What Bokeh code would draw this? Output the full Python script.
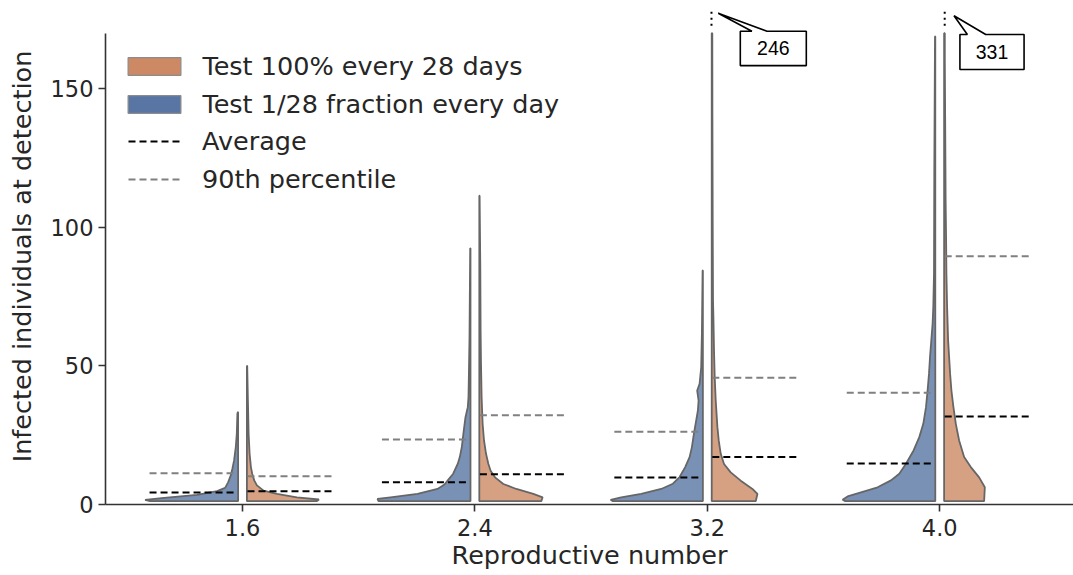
import numpy as np
from bokeh.plotting import figure
from bokeh.models import Range1d, FixedTicker, Legend, LegendItem
from bokeh.embed import file_html
from bokeh.resources import INLINE
from bokeh.core.properties import value

# ---------------- data ----------------
categories = ["1.6", "2.4", "3.2", "4.0"]
label_monthly = "Test 100% every 28 days"
label_daily = "Test 1/28 fraction every day"
label_mean = "Average"
label_p90 = "90th percentile"
x_title = "Reproductive number"
y_title = "Infected individuals at detection"

# daily testing (left halves): value levels and relative density at each level
daily_levels = [
    [1.2, 1.7, 2.4, 3.5, 4.8, 6.0, 8.0, 10.5, 12.9, 15.9, 20.7, 25.5, 32.7, 33.3],
    [1.2, 2.0, 2.6, 3.8, 5.6, 7.2, 8.7, 11.1, 14.7, 17.1, 20.7, 26.7, 31.5, 35.1, 38.7, 44.7, 60.0, 92.4],
    [1.2, 1.7, 2.6, 3.8, 5.6, 7.5, 9.9, 13.5, 17.1, 20.7, 25.5, 30.3, 33.9, 37.5, 41.1, 43.5, 49.5, 61.6, 84.4],
    [1.2, 1.7, 2.9, 4.4, 6.2, 8.7, 11.1, 14.7, 19.5, 24.3, 29.1, 35.1, 41.1, 47.1, 53.1, 59.1, 65.2, 71.2, 83.2, 120.0, 168.8],
]
daily_density = [
    [88, 93, 74, 41, 21, 13, 10, 7.3, 5.7, 4.0, 2.3, 1.3, 0.7, 0.3],
    [92, 93, 80, 53, 33, 26, 22.7, 17.3, 12.7, 10.7, 8.7, 6.7, 5.0, 2.7, 2.0, 1.7, 1.0, 0.3],
    [90, 92.3, 81.7, 61.7, 41.7, 30, 23.3, 17.7, 13.3, 11, 9, 6.7, 5, 4.3, 5.7, 3.3, 1.7, 1.0, 0.3],
    [90, 92.7, 87.7, 74.3, 57.7, 44.3, 36, 29.3, 21.7, 16, 12, 9.3, 7.7, 6.3, 5.3, 4, 2.7, 2, 1.3, 1.0, 0.3],
]
# testing everyone every 28 days (right halves)
monthly_levels = [
    [1.2, 1.8, 2.6, 3.8, 5.0, 6.9, 8.7, 11.1, 13.5, 18.3, 25.5, 37.5, 50.0],
    [1.2, 2.6, 3.8, 5.6, 7.4, 9.8, 12.2, 14.7, 18.3, 23.1, 29.1, 38.7, 50.7, 62.7, 85.0, 111.4],
    [1.2, 3.8, 5.6, 8.6, 11.6, 14.6, 18.3, 23.1, 27.9, 37.5, 45.9, 55.5, 67.5, 73.5, 100, 140, 246],
    [1.2, 6.2, 9.8, 13.5, 17.1, 23.1, 29.1, 35.1, 41.1, 47.1, 59.1, 71.2, 83.2, 95.2, 110, 130, 160, 331],
]
monthly_density = [
    [70, 72, 50, 30, 16.7, 10, 7.3, 5.3, 4.0, 2.7, 1.7, 1.0, 0.3],
    [62, 63.3, 54, 37, 24, 15.7, 11.3, 9, 6.7, 4.7, 3.3, 2.3, 1.7, 1.3, 1.0, 0.3],
    [44, 45.7, 40.7, 29, 19, 12.3, 9, 7, 5.7, 4, 3, 2.3, 1.7, 1.3, 1.0, 0.7, 0.3],
    [40, 40.7, 35, 26.7, 20, 15, 11.7, 9.3, 7.3, 6, 4, 3, 2.3, 2, 1.5, 1.2, 0.7, 0.3],
]

daily_mean = [4.3, 8.0, 9.7, 14.8]
daily_p90 = [11.3, 23.4, 26.2, 40.3]
monthly_mean = [4.8, 10.9, 17.1, 31.7]
monthly_p90 = [10.2, 32.2, 45.7, 89.5]

y_ticks = [0, 50, 100, 150]

# ---------------- layout / style constants ----------------
Y_TOP = 170                 # axis limit
Y_FRAME_TOP = 178.9
X_START, X_END = -0.5895, 3.5757
DENS2W = 1 / 232.4          # relative density -> half-width in category units
GAP = 0.019                 # half gap between split halves
LINE_IN, LINE_OUT = 0.0215, 0.40

BLUE = "#5975A4"
ORANGE = "#CC8963"
OUTLINE = "#666666"
TEXT = "#262626"
AXIS = "#333333"
FONT = "DejaVu Sans"

# annotation geometry (offsets from category centre, data units)
ANN_DOT_DX = [0.018, 0.0215]
ANN_TIP = [(0.047, 177.2), (0.0615, 176.3)]
ANN_BOX_X = [(0.142, 0.426), (0.087, 0.363)]
ANN_BOX_Y = [(158.3, 170.7), (156.9, 169.5)]
ANN_WEDGE_X = [(0.192, 0.257), (0.119, 0.198)]


def clip_profile(levels, dens, top):
    y = np.asarray(levels, float)
    d = np.asarray(dens, float)
    if y[-1] > top:
        d_top = np.interp(top, y, d)
        keep = y < top
        y = np.append(y[keep], top)
        d = np.append(d[keep], d_top)
    return y, d


def half_violin(center, levels, dens, side):
    y, d = clip_profile(levels, dens, Y_TOP)
    w = d * DENS2W
    inner = center + side * GAP
    outer = inner + side * w
    xs = [inner, inner] + list(outer[::-1])
    ys = [y[0], y[-1]] + list(y[::-1])
    return xs, ys


p = figure(width=1073, height=575, output_backend="svg", toolbar_location=None,
           x_range=Range1d(X_START, X_END), y_range=Range1d(0, Y_FRAME_TOP),
           min_border_left=105, min_border_right=0, min_border_top=8, min_border_bottom=71)
p.outline_line_color = None
p.xgrid.visible = False
p.ygrid.visible = False
p.background_fill_color = "white"
p.border_fill_color = "white"

pos = list(range(len(categories)))

# violins
bx, by, ox, oy = [], [], [], []
for i in pos:
    xs, ys = half_violin(i, daily_levels[i], daily_density[i], -1)
    bx.append(xs); by.append(ys)
    xs, ys = half_violin(i, monthly_levels[i], monthly_density[i], +1)
    ox.append(xs); oy.append(ys)

p.patches(bx, by, fill_color=BLUE, fill_alpha=0.8, line_color=OUTLINE, line_width=1.8)
p.patches(ox, oy, fill_color=ORANGE, fill_alpha=0.8, line_color=OUTLINE, line_width=1.8)

# mean / percentile lines
x_arr = np.array(pos, float)
dash = "7 4"
p.segment(x0=x_arr - LINE_OUT, x1=x_arr - LINE_IN, y0=daily_p90, y1=daily_p90,
          line_color="gray", line_width=2, line_dash=dash)
p.segment(x0=x_arr + LINE_IN, x1=x_arr + LINE_OUT, y0=monthly_p90, y1=monthly_p90,
          line_color="gray", line_width=2, line_dash=dash)
p.segment(x0=x_arr - LINE_OUT, x1=x_arr - LINE_IN, y0=daily_mean, y1=daily_mean,
          line_color="black", line_width=2, line_dash=dash)
p.segment(x0=x_arr + LINE_IN, x1=x_arr + LINE_OUT, y0=monthly_mean, y1=monthly_mean,
          line_color="black", line_width=2, line_dash=dash)

# annotations for maxima beyond the axis
ann_idx = [i for i in pos if max(monthly_levels[i]) > Y_TOP]
for k, i in enumerate(ann_idx):
    vmax = max(monthly_levels[i])
    dx = i + ANN_DOT_DX[k]
    p.segment(x0=[dx], x1=[dx], y0=[Y_TOP + 2.7], y1=[Y_TOP + 7.9],
              line_color="black", line_width=2, line_dash="2 4")
    bx0, bx1 = i + ANN_BOX_X[k][0], i + ANN_BOX_X[k][1]
    by0, by1 = ANN_BOX_Y[k]
    wx0, wx1 = i + ANN_WEDGE_X[k][0], i + ANN_WEDGE_X[k][1]
    tx, ty = i + ANN_TIP[k][0], ANN_TIP[k][1]
    p.patch([bx0, bx0, wx0, tx, wx1, bx1, bx1], [by0, by1, by1, ty, by1, by1, by0],
            fill_color="white", line_color="black", line_width=1.6)
    p.text(x=[(bx0 + bx1) / 2], y=[(by0 + by1) / 2], text=[str(int(vmax))],
           text_font=value("Liberation Sans"), text_font_size="19.5px",
           text_align="center", text_baseline="middle", text_color="black")

# legend proxies (outside the visible range)
OFF = [X_START - 5, X_START - 4, X_START - 4]
r_or = p.patch(OFF, [1, 1, 2], fill_color=ORANGE, line_color="#8c8c8c", line_width=1.2)
r_bl = p.patch(OFF, [1, 1, 2], fill_color=BLUE, line_color="#8c8c8c", line_width=1.2)
r_mean = p.line(OFF[:2], [1, 1], line_color="black", line_width=2, line_dash=dash)
r_p90 = p.line(OFF[:2], [1, 1], line_color="gray", line_width=2, line_dash=dash)

common = dict(label_text_font=FONT, label_text_font_size="25.5px", label_text_color=TEXT,
              label_height=30, spacing=8, padding=0, margin=0,
              border_line_alpha=0, background_fill_alpha=0)
legend_patches = Legend(items=[LegendItem(label=label_monthly, renderers=[r_or]),
                               LegendItem(label=label_daily, renderers=[r_bl])],
                        location=(16.4, 385.5), glyph_width=66, glyph_height=22,
                        label_standoff=15, **common)
legend_lines = Legend(items=[LegendItem(label=label_mean, renderers=[r_mean]),
                             LegendItem(label=label_p90, renderers=[r_p90])],
                      location=(23, 310), glyph_width=53, glyph_height=18,
                      label_standoff=21, **common)
p.add_layout(legend_patches)
p.add_layout(legend_lines)

# axes
p.xaxis.ticker = FixedTicker(ticks=pos)
p.xaxis.major_label_overrides = {i: c for i, c in enumerate(categories)}
p.yaxis.ticker = FixedTicker(ticks=y_ticks)
p.yaxis.bounds = (0, Y_TOP)
p.xaxis.axis_label = x_title
p.yaxis.axis_label = y_title
for ax in (p.xaxis[0], p.yaxis[0]):
    ax.axis_line_color = AXIS
    ax.axis_line_width = 1.6
    ax.major_tick_line_color = AXIS
    ax.major_tick_line_width = 1.6
    ax.major_tick_out = 7
    ax.major_tick_in = 0
    ax.minor_tick_line_color = None
    ax.major_label_text_font = FONT
    ax.major_label_text_font_size = "22.5px"
    ax.major_label_text_color = TEXT
    ax.axis_label_text_font = FONT
    ax.axis_label_text_font_size = "25.5px"
    ax.axis_label_text_font_style = "normal"
    ax.axis_label_text_color = TEXT
p.xaxis.major_label_standoff = 7
p.xaxis.axis_label_standoff = 1
p.yaxis.major_label_standoff = 5
p.yaxis.axis_label_standoff = 11

open("out.html", "w").write(file_html(p, INLINE))
